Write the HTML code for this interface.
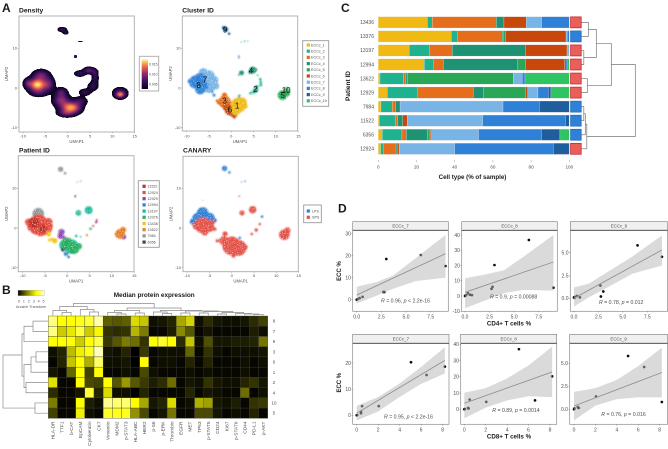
<!DOCTYPE html>
<html lang="en">
<head>
<meta charset="utf-8">
<title>Multi-panel single-cell chart figure</title>
<style>
  html, body { margin: 0; padding: 0; background: #fff; }
  body { width: 668px; height: 449px; overflow: hidden; position: relative; font-family: "Liberation Sans", sans-serif; }
  #density-canvas { position: absolute; left: 19px; top: 16px; width: 115px; height: 116px; }
  #figure { position: absolute; left: 0; top: 0; }
  .b { font-family: "Liberation Sans", sans-serif; font-weight: 700; fill: #1a1a1a; }
</style>
</head>
<body>
<canvas id="density-canvas" width="230" height="232"></canvas>
<svg id="figure" width="668" height="449" viewBox="0 0 668 449" xmlns="http://www.w3.org/2000/svg">
  <defs>
    <filter id="speckle" x="-5%" y="-5%" width="110%" height="110%">
      <feGaussianBlur in="SourceGraphic" stdDeviation="0.75" result="soft"/>
      <feTurbulence type="fractalNoise" baseFrequency="1.1" numOctaves="1" seed="4" result="noise"/>
      <feColorMatrix in="noise" type="matrix" values="0 0 0 0 0  0 0 0 0 0  0 0 0 0 0  0 0 0 5 -1.15" result="mask"/>
      <feComposite in="soft" in2="mask" operator="in"/>
    </filter>
    <linearGradient id="density-gradient" x1="0" y1="1" x2="0" y2="0">
      <stop offset="0" stop-color="#05010f"/><stop offset="0.25" stop-color="#35105f"/>
      <stop offset="0.5" stop-color="#8c2a6e"/><stop offset="0.72" stop-color="#e8604c"/>
      <stop offset="0.87" stop-color="#fbae4a"/><stop offset="1" stop-color="#fcfdbf"/>
    </linearGradient>
    <linearGradient id="heat-gradient" x1="0" y1="0" x2="1" y2="0">
      <stop offset="0" stop-color="#000"/><stop offset="0.7" stop-color="#ffff00"/><stop offset="1" stop-color="#ffffd8"/>
    </linearGradient>
  </defs>

  <text class="b" x="2" y="12" font-size="12">A</text>
  <text class="b" x="2" y="294" font-size="12">B</text>
  <text class="b" x="341" y="12" font-size="12">C</text>
  <text class="b" x="338" y="212.7" font-size="12">D</text>

  <text class="b" x="19" y="12.3" font-size="6.7">Density</text>
  <text class="b" x="182.3" y="12.3" font-size="6.7">Cluster ID</text>
  <text class="b" x="19" y="152.3" font-size="6.7">Patient ID</text>
  <text class="b" x="183" y="152.3" font-size="6.7">CANARY</text>

  <text class="b" x="113.7" y="297" font-size="6.4">Median protein expression</text>
  <text x="31" y="308.2" font-size="3.7" fill="#555" text-anchor="middle">Arcsinh Transform</text>

  <text class="b" x="472.5" y="179" font-size="6.2" text-anchor="middle">Cell type (% of sample)</text>
  <text class="b" x="0" y="0" font-size="6.5" text-anchor="middle" transform="translate(350,86) rotate(-90)">Patient ID</text>

  <text class="b" x="0" y="0" font-size="6" text-anchor="middle" transform="translate(341,271) rotate(-90)">ECC %</text>
  <text class="b" x="0" y="0" font-size="6" text-anchor="middle" transform="translate(341,382.7) rotate(-90)">ECC %</text>
  <text class="b" x="509" y="325.5" font-size="6.2" text-anchor="middle">CD4+ T cells %</text>
  <text class="b" x="509" y="438.5" font-size="6.2" text-anchor="middle">CD8+ T cells %</text>

  <g id="root"></g>
</svg>

<script>
/* ---------- Panel A data (UMAP coordinates) ---------- */
const umapXTicks = [-10, -5, 0, 5, 10, 15];
const umapYTicks = [-10, 0, 10];
const densityLegendLabels = ["0.015", "0.010", "0.005"];

/* density modes: x, y, spread x, spread y, weight */
const densityModes = [
  [-6.8, 0.9, 1.25, 1.0, 0.95], [-9, 1.3, 0.55, 0.7, 0.22], [-6, 3.2, 1.1, 0.85, 0.35], [-4.3, 1.0, 0.8, 1.1, 0.3], [-6.5, -1, 1.2, 0.7, 0.2],
  [0.4, -4.8, 1.25, 0.9, 0.72], [-1.5, -3, 1.1, 1.0, 0.42], [1.7, -5, 1.0, 0.8, 0.22], [-1.5, -1, 0.8, 0.7, 0.25], [-0.3, -6.2, 1.2, 0.6, 0.3], [2.7, -3.3, 1.0, 0.7, 0.2],
  [11.7, -1.6, 0.6, 0.5, 0.55], [11.7, -1.2, 1.0, 0.85, 0.25],
  [4.7, 4.5, 0.75, 0.5, 0.3], [2.7, 3.7, 0.8, 0.5, 0.18], [6.1, 2.5, 0.5, 0.8, 0.16], [5.6, 0.5, 0.75, 0.75, 0.16],
  [3.8, -1, 0.85, 0.55, 0.16], [6, 4, 0.5, 0.55, 0.16],
  [-1.3, 14.8, 0.65, 0.4, 0.18], [-0.5, 14, 0.45, 0.35, 0.12],
  [1.7, 8, 0.2, 0.2, 0.25], [2.8, 11.8, 0.5, 0.1, 0.09]
];

/* clouds per group: x, y, spread */
const clusterNames = ["ECCc_1","ECCc_2","ECCc_3","ECCc_4","ECCc_5","ECCc_6","ECCc_7","ECCc_8","ECCc_9","ECCc_10"];
const clusterClouds = [
  [[1.5,-4.4,1.7],[2.4,-3.6,1.1],[1,-5.6,1.1],[3.2,-4.6,0.5],[1.6,-2.8,0.5]],
  [[5.5,-0.5,0.6],[5.7,0.3,0.4],[6.6,0.8,0.35],[6.6,1.5,0.3],[6.5,2.2,0.3],[5,-1,0.4],[4.3,-1.3,0.3],[1.8,-2,0.3],[5.9,3.2,0.2],[3,11.8,0.18],[2.2,11.6,0.14],[3.7,11.8,0.14]],
  [[-1.5,-3.5,1.4],[-2.6,-3.5,0.7],[-1.5,-1.8,0.6],[-0.5,-4.5,1.1],[-3.2,-3.2,0.3]],
  [[4.8,4.5,0.8],[4.2,4,0.4],[2.3,3.8,0.55],[5.4,4.6,0.4],[1.7,3.3,0.2]],
  [[11.5,-1.8,1.1],[12.3,-1.2,0.9],[10.8,-1.6,0.3]],
  [[-0.2,-5.5,1.3],[0.6,-6.6,0.8],[0.7,-7.5,0.25],[-1.3,-5,0.6]],
  [[-6.3,3.9,1.0],[-5,3,1.3],[-3.8,2,0.9],[-3.5,0.5,0.8],[-5,0.2,1.3],[-6.5,1.8,1.8],[-6.5,-0.5,0.8]],
  [[-8,1.5,1.5],[-9.3,1.7,0.5],[-7,2.2,1.4],[-7,-0.4,1.1],[-6,0.5,0.9],[-3.9,-1.8,0.35],[-4.3,-0.9,0.3],[1.7,8,0.2]],
  [[-1.3,14.8,0.6],[-1.7,15.2,0.4],[-0.5,13.7,0.3],[1.7,7.6,0.15]],
  [[12.4,-0.3,0.5]]
];
const clusterLabels = ["1","2","3","4","5","6","7","8","9","10"];
const clusterLabelX = [1.3, 5.4, -1.5, 4.4, 11.5, -0.3, -5.9, -7.3, -1.4, 12.3];
const clusterLabelY = [-4.4, -0.3, -3.2, 4.3, -1.8, -5.5, 2.1, 0.7, 14.7, -0.5];

const patientNames = ["11522","12924","12929","12994","13197","13376","13436","13622","7984","6356"];
const patientClouds = [
  [[-7.5,1.3,1.2],[-5.5,-0.2,0.9]],
  [[-6.5,0.8,2.3],[-5,0,1.6],[-8.7,1.5,0.8],[-4.2,1.5,0.9],[-6,-1,1.0],[-7.8,0.4,1.2],[-3.7,0.5,0.5],[5.8,0.5,0.25],[6.6,2,0.25]],
  [[-1.3,-1,0.7],[-1.5,-2,0.7],[-0.6,-2.5,0.4],[1.8,8,0.25],[12.6,-2.2,0.6],[6.5,1.5,0.3]],
  [[-0.3,-6.5,0.5],[0.3,-7.3,0.3],[-1,-5,0.6],[1,-6,0.5]],
  [[2.5,3.8,0.65],[4.8,4.5,0.9],[1,-4.7,1.6],[-0.5,-4.3,1.3],[2,-2,0.3],[3,-2.2,0.2],[5.2,-0.2,0.3]],
  [[0,-4,1.4],[1.5,-5.2,1.2],[2.6,-4.6,0.7]],
  [[-4.2,-1.5,0.55],[-2.8,-3.2,0.6],[-4,-3,0.35],[-3.4,-2.9,0.4]],
  [[11.8,-1.5,1.1],[12.5,-0.5,0.7],[10.9,-1.5,0.3],[4.4,-1.8,0.25]],
  [[-6.5,3.6,1.3],[-1.5,14.8,0.6],[-0.5,13.8,0.3],[3,11.8,0.18],[2.2,11.6,0.14]],
  [[-1,-5.5,0.4]]
];
const canaryNames = ["LPS","SPS"];
const canaryClouds = [
  [[-6.5,3.8,1.3],[-7.5,2.3,1.4],[-5,2.5,1.2],[-8.7,1.6,0.7],[-3.8,1.9,0.5],[0.5,-4.5,1.0],[-1.6,15,0.6],[-0.5,14,0.3],[3,11.8,0.18],[2.2,11.6,0.14],[1.8,-2.5,0.3],[6.8,2.9,0.3],[-6.5,7,0.1]],
  [[-6.5,0.7,1.8],[-5,0.2,1.1],[-4.5,1.4,0.7],[-7.9,0.6,0.9],[-3.8,-0.3,0.4],[-6,-1,0.8],[0,-4.5,2.1],[1.5,-5,1.8],[-1.8,-3.2,1.0],[-1.5,-1.5,0.6],[0.4,-7,0.45],[3,-4.8,0.6],[-3.2,-3.2,0.4],[2.3,3.8,0.6],[4.7,4.6,0.85],[11.8,-1.7,1.2],[12.5,-0.6,0.7],[6.3,1,0.3],[5.5,-0.5,0.4],[4.5,-1.5,0.3],[1.7,8,0.2]]
];

/* ---------- Panel B data ---------- */
const heatRows = ["8","7","9","3","6","1","2","4","10","5"];
const heatCols = ["HLA-DR","TTF1","b-CAT","EpCAM","Cytokeratin","CK7","Vimentin","MDM2","p-STAT3","HLA-ABC","HER2","p-S6","p-ERK","Thrombin","EGFR","MET","TP53","p-STAT5","CD24","Ki67","p-STAT6","CD44","PD-L1","p-AKT"];
const heatValues = [
  [4.4,3.5,3.5,3.7,3.9,4.7,1.3,1.2,1.3,3.0,2.7,0.2,0.3,0.5,2.3,2.9,0.2,0.6,0.3,0.2,0.2,0.3,0.6,0.9],
  [4.4,2.8,3.2,3.9,2.8,3.4,0.7,0.6,0.7,2.5,1.7,0.1,0.1,0.4,1.9,1.2,0.1,0.3,0.1,0.1,0.1,0.1,0.4,0.2],
  [3.5,3.5,3.5,2.8,3.5,4.0,0.8,1.2,1.7,1.5,0.7,3.5,3.8,3.5,0.6,2.7,0.2,1.1,0.3,0.3,0.4,0.4,0.5,1.6],
  [0.2,0.5,2.6,3.3,3.7,4.8,0.3,0.2,0.5,0.0,0.8,0.1,0.2,0.2,0.2,1.4,0.1,0.7,0.2,0.1,0.2,0.2,0.2,0.3],
  [0.1,0.5,2.7,3.5,2.4,4.2,0.2,0.2,0.3,0.0,3.5,0.1,0.2,0.2,0.1,0.5,0.1,0.5,0.1,0.1,0.1,0.2,0.1,0.2],
  [0.3,0.1,1.4,3.5,0.9,3.5,0.1,0.1,0.2,0.1,1.0,0.2,0.1,0.1,0.1,0.2,0.1,0.2,0.1,0.1,0.1,0.2,0.1,0.1],
  [3.1,0.1,0.1,3.5,1.0,0.9,3.5,1.2,2.1,1.2,0.8,0.4,0.6,1.5,0.1,0.3,0.2,0.7,0.3,0.2,0.2,0.5,0.7,0.3],
  [0.6,0.1,0.1,0.3,3.9,0.5,3.0,0.2,0.2,0.0,0.5,0.1,0.1,0.1,0.1,0.5,0.1,0.3,0.2,0.1,0.1,1.5,0.1,0.2],
  [1.7,0.1,0.1,3.5,0.4,0.2,4.5,4.3,4.3,3.5,2.3,0.3,0.5,3.0,0.1,0.2,2.4,2.2,0.3,0.2,0.4,0.1,0.7,0.8],
  [0.9,0.1,0.1,3.3,0.2,0.1,3.8,3.7,3.7,2.0,1.0,0.1,0.3,1.6,0.1,0.1,1.0,1.0,0.3,0.1,0.2,0.1,0.5,0.1]
];
const heatLegendTicks = [0, 1, 2, 3, 4, 5];
/* merge trees: [merge height, left, right]; leaves are row / column indices */
const rowTree = [45, [26, [24, [15, 0, 1], 2], [24, [17, [12, 3, 4], 5], [22, 6, 7]]], [13, 8, 9]];
const colTree = [12,
  [9, [5, 0, [3, 1, 2]], [6, 3, [3.5, 4, 5]]],
  [7.5, [5, [3, 6, [1.5, 7, 8]], [2.5, 9, 10]],
    [5, [3.5, 11, [2, 12, 13]], [4.5, [2.5, 14, 15], [4, [2.5, 16, 17], [3, [1.5, 18, 19], [2, 20, [1.5, 21, [1, 22, 23]]]]]]]]];

/* ---------- Panel C data ---------- */
const patients = ["13436","13376","13197","12994","13622","12929","7984","11522","6356","12924"];
const barTicks = [0, 20, 40, 60, 80, 100];
const cellTypeColors = ["#f0b913","#1fb28e","#e56e1c","#1e9373","#2aa657","#c8480b","#78b4e6","#2e81d6","#1f5e9c","#2dc461"];
const share13436 = [25.7, 2.6, 33.5, 4.0, 0, 11.7, 8.0, 14.5, 0, 0];
const share13376 = [38.2, 3.1, 23.6, 0.8, 0.9, 31.7, 0.6, 1.1, 0, 0];
const share13197 = [16.2, 10.5, 12.0, 38.5, 0, 21.6, 1.2, 0, 0, 0];
const share12994 = [24.1, 4.9, 5.0, 39.1, 3.9, 20.6, 0, 1.2, 0, 1.2];
const share13622 = [0.9, 12.2, 1.4, 0.7, 55.5, 0, 4.7, 1.4, 0, 23.2];
const share12929 = [4.7, 15.9, 29.1, 5.2, 22.1, 1.3, 5.3, 5.4, 1.4, 9.6];
const share7984  = [1.4, 5.9, 1.7, 2.4, 0, 0, 53.9, 19.0, 15.7, 0];
const share11522 = [0.5, 8.7, 1.0, 2.6, 0, 2.3, 39.6, 43.3, 1.9, 0];
const share6356  = [2.1, 10.3, 2.3, 11.0, 0.9, 0.9, 25.0, 33.0, 9.6, 4.9];
const share12924 = [1.2, 1.6, 6.5, 1.0, 0, 0.7, 29.0, 51.6, 8.4, 0];
const allShares = [share13436, share13376, share13197, share12994, share13622, share12929, share7984, share11522, share6356, share12924];
const patientCanary = ["SPS","LPS","SPS","SPS","SPS","SPS","LPS","LPS","LPS","SPS"];
const patientTree = [54, [30, [15, [7, 0, 1], [2.5, 2, 3]], [6, 4, 5]], [5.5, [4, [2.5, 6, 7], 8], 9]];

/* ---------- Panel D data ---------- */
const cd4Values  = [0, 0.1, 0.3, 0.6, 2.7, 2.8, 3, 6.5, 9];
const ecc7Top    = [0, 0.3, 0.7, 1.3, 3.5, 3.5, 18.5, 20.3, 15.3];
const cd4Values2 = [0, 0.1, 0.3, 0.5, 0.7, 2.7, 2.8, 3, 6.5, 9];
const ecc8Top    = [0, 0.5, 1.8, 0.8, 0.6, 4.7, 6, 20.3, 36.7, 5.4];
const ecc9TopX   = [0, 0.05, 0.1, 0.3, 0.6, 2.7, 2.75, 3, 6.5, 9];
const ecc9Top    = [0.1, 0.05, 0.15, 0.25, 0.1, 1.4, 0.2, 0.75, 5.8, 4.55];
const cd8Values  = [0, 0.05, 0.4, 0.4, 0.5, 2.05, 5.05, 6.5, 8.2];
const ecc7Bottom = [0, 0.1, 0.8, 1.4, 3.5, 3.5, 20.3, 15.4, 18.6];
const cd8Values2 = [0, 0.05, 0.35, 0.4, 0.5, 2.05, 5.1, 6.6, 8.2];
const ecc8Bottom = [0, 0.2, 0.8, 0.5, 6, 4.6, 37, 5.5, 20.3];
const ecc9BotX   = [0, 0.05, 0.35, 0.4, 0.45, 2.05, 5.05, 6.55, 8.2];
const ecc9Bottom = [0, 0.1, 0.25, 0.15, 0.15, 1.4, 5.8, 4.6, 0.8];

const fitEnds = [[0, 2.1, 9, 20.9], [0, 2.4, 9, 22.3], [0, 0, 9, 5.3], [0, 0.8, 8.2, 21], [0, 3.7, 8.2, 23], [0, 0.36, 8.2, 4]];
const bandX = [[0, 2, 3.7, 6, 9], [0, 2, 4, 6, 9], [0, 1.5, 3, 6, 9], [0, 2, 4, 6, 8.2], [0, 2, 4, 6, 8.2], [0, 2, 4, 6, 8.2]];
const bandLow = [[-1.7, 1.8, 5, 8.5, 10], [-8, -3, 2, 4, 3.5], [-0.9, 0.1, 0.95, 2.7, 3.6], [-2, 1.5, 7, 12, 16], [-5.5, 1, 5.5, 8, 7.5], [-1.2, 0.4, 1.1, 1.3, 1.3]];
const bandHigh = [[5.9, 8, 11, 19, 29.4], [11.6, 14, 17, 26, 40], [1.2, 1.6, 2.6, 4.6, 6.9], [3.6, 7, 12.2, 18.5, 26], [10.2, 13, 19, 27, 38.5], [1.9, 2.3, 3.2, 4.7, 6.7]];
const corrR = ["0.96", "0.9", "0.78", "0.95", "0.89", "0.76"];
const corrP = ["< 2.2e-16", "= 0.00088", "= 0.012", "< 2.2e-16", "= 0.0014", "= 0.016"];
const corrStrips = ["ECCc_7", "ECCc_8", "ECCc_9", "ECCc_7", "ECCc_8", "ECCc_9"];
const corrX = [cd4Values, cd4Values2, ecc9TopX, cd8Values, cd8Values2, ecc9BotX];
const corrY = [ecc7Top, ecc8Top, ecc9Top, ecc7Bottom, ecc8Bottom, ecc9Bottom];
const corrXTicks = [["0.0","2.5","5.0","7.5"],["0.0","2.5","5.0","7.5"],["0.0","2.5","5.0","7.5"],["0","2","4","6","8"],["0","2","4","6","8"],["0","2","4","6","8"]];
const corrYTicks = [["0","10","20","30"],["-10","0","10","20","30","40"],["0.0","2.5","5.0"],["0","10","20"],["0","10","20","30","40"],["0.0","2.5","5.0"]];

/* ---------- helpers ---------- */
const NS = "http://www.w3.org/2000/svg";
const root = document.getElementById("root");
function el(tag, name, attrs, parent) {
  const node = document.createElementNS(NS, tag);
  
  
  for (const k in attrs) node.setAttribute(k, attrs[k]);
  (parent || root).appendChild(node);
  return node;
}
function label(name, str, x, y, size, anchor, fill, rotate) {
  const attrs = { "font-size": size, "text-anchor": anchor || "start", fill: fill || "#4d4d4d", "font-family": '"Liberation Sans", sans-serif' };
  if (rotate) {
    attrs.transform = "translate(" + x + "," + y + ") rotate(" + rotate + ")";
    attrs.x = 0; attrs.y = size * 0.35;
  } else {
    attrs.x = x; attrs.y = y + size * 0.35;
  }
  const t = el("text", name, attrs);
  t.textContent = str;
  return t;
}
function linear(v0, p0, v1, p1) { return v => p0 + (v - v0) * (p1 - p0) / (v1 - v0); }
function treeLeafCenter(node, leafPos) {
  return Array.isArray(node) ? (treeLeafCenter(node[1], leafPos) + treeLeafCenter(node[2], leafPos)) / 2 : leafPos(node);
}
function drawTree(node, name, leafPos, base, dir, vertical, color) {
  if (!Array.isArray(node)) return;
  const h = node[0];
  const a = node[1], b = node[2];
  const pa = treeLeafCenter(a, leafPos), pb = treeLeafCenter(b, leafPos);
  const ha = Array.isArray(a) ? a[0] : 0, hb = Array.isArray(b) ? b[0] : 0;
  const H = v => base + dir * v;
  const d = vertical
    ? "M" + pa + " " + H(ha) + "V" + H(h) + "H" + pb + "V" + H(hb)
    : "M" + H(ha) + " " + pa + "H" + H(h) + "V" + pb + "H" + H(hb);
  el("path", name, { d: d, fill: "none", stroke: color, "stroke-width": 0.7 });
  drawTree(a, name, leafPos, base, dir, vertical, color);
  drawTree(b, name, leafPos, base, dir, vertical, color);
}

/* ---------- Panel A ---------- */
const densityStops = [[0,[5,1,15]],[0.25,[53,16,95]],[0.5,[140,42,110]],[0.72,[232,96,76]],[0.87,[251,174,74]],[1,[252,253,191]]];
function densityColor(t) {
  for (let i = 1; i < densityStops.length; i++) {
    if (t <= densityStops[i][0]) {
      const a = densityStops[i-1], b = densityStops[i], f = (t - a[0]) / (b[0] - a[0]);
      return [0,1,2].map(c => a[1][c] + (b[1][c] - a[1][c]) * f);
    }
  }
  return densityStops[densityStops.length-1][1];
}
(function drawDensity() {
  const cv = document.getElementById("density-canvas");
  const ctx = cv.getContext("2d");
  const img = ctx.createImageData(cv.width, cv.height);
  const sx = 4.47, sy = 3.97;
  const cutoff = 0.045;
  for (let j = 0; j < cv.height; j++) {
    for (let i = 0; i < cv.width; i++) {
      const dx = (19 + i / 2 - 67.7) / sx, dy = (88 - (16 + j / 2)) / sy;
      let v = 0;
      for (const m of densityModes) {
        const a = (dx - m[0]) / m[2], b = (dy - m[1]) / m[3];
        v += m[4] * Math.exp(-0.5 * (a * a + b * b));
      }
      const p = (j * cv.width + i) * 4;
      if (v < cutoff) { img.data[p] = img.data[p+1] = img.data[p+2] = 255; img.data[p+3] = 255; continue; }
      const c = densityColor(Math.min(1, Math.pow(v - cutoff, 0.75) * 1.02));
      img.data[p] = c[0]; img.data[p+1] = c[1]; img.data[p+2] = c[2]; img.data[p+3] = 255;
    }
  }
  ctx.putImageData(img, 0, 0);
})();

const umapLayouts = [
  { id: "density",  left: 19,    right: 134.3, top: 16,    bottom: 132,   x0: 67.7,  y0: 88,  lblY: 136,   titleY: 141.5, yLabelX: 6.7,   tickR: 17 },
  { id: "cluster",  left: 182.3, right: 297.7, top: 16,    bottom: 131,   x0: 231.3, y0: 88,  lblY: 136,   titleY: 141.5, yLabelX: 170.5, tickR: 180.5 },
  { id: "patient",  left: 18.3,  right: 134,   top: 155.7, bottom: 271.7, x0: 67.3,  y0: 228, lblY: 275.7, titleY: 281,   yLabelX: 6.7,   tickR: 16.5 },
  { id: "canary",   left: 183,   right: 298.3, top: 156.3, bottom: 271.7, x0: 231.7, y0: 228, lblY: 275.7, titleY: 281,   yLabelX: 171,   tickR: 181 }
];
const umapPalettes = {
  cluster: cellTypeColors,
  patient: ["#b8322a","#e74c3c","#8e44ad","#2e86c1","#1abc9c","#27ae60","#f1c40f","#e67e22","#8e9698","#34495e"],
  canary: ["#2e81d6","#e4534a"]
};
const umapClouds = { cluster: clusterClouds, patient: patientClouds, canary: canaryClouds };

umapLayouts.forEach(L => {
  const xs = v => L.x0 + v * 4.46;
  const ys = v => L.y0 - v * 3.97;
  if (umapClouds[L.id]) {
    const layer = el("g", L.id + "-scatter", { filter: "url(#speckle)" });
    const order = L.id === "cluster" ? [6,7,2,5,0,1,3,4,8,9] : L.id === "patient" ? [8,1,0,2,3,4,5,6,7,9] : [0,1];
    order.forEach(g => {
      umapClouds[L.id][g].forEach(c => {
        el("circle", L.id + "-cloud", { cx: xs(c[0]), cy: ys(c[1]), r: c[2] * 4.46, fill: umapPalettes[L.id][g] }, layer);
      });
    });
  }
  el("rect", L.id + "-frame", { x: L.left, y: L.top, width: L.right - L.left, height: L.bottom - L.top, fill: "none", stroke: "#ababab", "stroke-width": 0.9 });
  umapXTicks.forEach(t => {
    el("line", "x-tick", { x1: xs(t), x2: xs(t), y1: L.bottom, y2: L.bottom + 1.2, stroke: "#777", "stroke-width": 0.4 });
    label("x-tick-label", String(t), xs(t), L.lblY, 4, "middle");
  });
  umapYTicks.forEach(t => {
    el("line", "y-tick", { x1: L.left - 1.2, x2: L.left, y1: ys(t), y2: ys(t), stroke: "#777", "stroke-width": 0.4 });
    label("y-tick-label", String(t), L.tickR, ys(t), 4, "end");
  });
  label("x-axis-title", "UMAP1", (L.left + L.right) / 2, L.titleY, 4.2, "middle");
  label("y-axis-title", "UMAP2", L.yLabelX, (L.top + L.bottom) / 2, 4.2, "middle", "#4d4d4d", -90);
});

clusterLabels.forEach((s, i) => {
  label("cluster-label-" + s, s, 231.3 + clusterLabelX[i] * 4.46, 88 - clusterLabelY[i] * 3.97, 8, "middle", "#111");
});

/* density legend */
el("rect", "density-legend-box", { x: 139.3, y: 56.3, width: 19.4, height: 34.7, fill: "#fff", stroke: "#aaa", "stroke-width": 0.9 });
el("rect", "density-legend-bar", { x: 141.7, y: 59, width: 6.3, height: 30, fill: "url(#density-gradient)" });
densityLegendLabels.forEach((s, i) => label("density-legend-label", s, 149, 64.3 + i * 9.9, 3.4, "start"));

/* categorical legends */
function categorical(name, box, names, colors, firstY, step, sx, tx, size) {
  el("rect", name + "-box", { x: box[0], y: box[1], width: box[2], height: box[3], fill: "#fff", stroke: "#999", "stroke-width": 0.9 });
  names.forEach((n, i) => {
    const y = firstY + i * step;
    el("rect", name + "-swatch", { x: sx, y: y - 1.6, width: 3.2, height: 3.2, fill: colors[i] });
    label(name + "-entry", n, tx, y, size, "start");
  });
}
categorical("cluster-legend", [302.7, 40.7, 26, 65.6], clusterNames, cellTypeColors, 45, 6.2, 306.7, 311, 3.7);
categorical("patient-legend", [138.3, 180.7, 21, 66.6], patientNames, umapPalettes.patient, 186.3, 6.2, 142.5, 147.5, 3.7);
categorical("canary-legend", [303.7, 205, 17.6, 17.7], canaryNames, umapPalettes.canary, 211, 6.3, 306.7, 312, 3.7);

/* ---------- Panel B ---------- */
const cellW = 219.4 / heatCols.length, cellH = 102.3 / heatRows.length, heatX = 48.3, heatY = 316;
const rowPos = i => heatY + (i + 0.5) * cellH;
const colPos = i => heatX + (i + 0.5) * cellW;
function heatColor(v) {
  if (v <= 3.5) { const c = Math.round(255 * v / 3.5); return "rgb(" + c + "," + c + ",0)"; }
  const f = Math.min(1, (v - 3.5) / 1.5);
  return "rgb(255,255," + Math.round(216 * f) + ")";
}
heatValues.forEach((row, r) => {
  row.forEach((v, c) => {
    el("rect", "heat-cell-" + heatRows[r] + "-" + heatCols[c], { x: heatX + c * cellW, y: heatY + r * cellH, width: cellW, height: cellH, fill: heatColor(v), stroke: "#3a3a3a", "stroke-width": 0.35 });
  });
});
heatRows.forEach((s, i) => label("heat-row-label", s, 274, rowPos(i), 4.4, "middle"));
heatCols.forEach((s, i) => label("heat-col-label", s, colPos(i), 421.5, 4.8, "end", "#4d4d4d", -90));
drawTree(rowTree, "row-dendrogram-branch", rowPos, 48, -1, false, "#8a8a8a");
drawTree(colTree, "col-dendrogram-branch", colPos, 315.5, -1, true, "#8a8a8a");
el("rect", "heat-legend-bar", { x: 18, y: 290.3, width: 26.3, height: 5.4, fill: "url(#heat-gradient)", stroke: "#999", "stroke-width": 0.3 });
const legendScale = linear(0, 19, 5, 43.5);
heatLegendTicks.forEach(t => label("heat-legend-tick", String(t), legendScale(t), 301, 3.6, "middle"));

/* ---------- Panel C ---------- */
const barX = linear(0, 378.3, 100, 569.3);
const barY = i => 16.7 + i * 14.05;
const barH = 11.3;
patients.forEach((p, i) => {
  let acc = 0;
  allShares[i].forEach((v, k) => {
    if (v > 0) {
      el("rect", "bar-" + p + "-" + clusterNames[k], { x: barX(acc), y: barY(i), width: barX(acc + v) - barX(acc), height: barH, fill: cellTypeColors[k], stroke: "#e8e8e8", "stroke-width": 0.25 });
    }
    acc += v;
  });
  label("patient-label", p, 374, barY(i) + barH / 2, 5, "end");
  const sps = patientCanary[i] === "SPS";
  el("rect", "canary-annotation-" + p, { x: 570.6, y: barY(i) + 0.2, width: 10.6, height: barH - 0.4, fill: sps ? "#e85f5c" : "#2e81d6", stroke: sps ? "#c92a2a" : "#2c6fb5", "stroke-width": 0.8 });
});
barTicks.forEach(t => {
  el("line", "bar-x-tick", { x1: barX(t), x2: barX(t), y1: 160.3, y2: 162, stroke: "#666", "stroke-width": 0.4 });
  label("bar-x-tick-label", String(t), barX(t), 166.7, 4.6, "middle");
});
drawTree(patientTree, "patient-dendrogram-branch", i => barY(i) + barH / 2, 581.3, 1, false, "#777");

/* ---------- Panel D ---------- */
const dLayouts = [
  { left: 352.7, right: 448.3, top: 221.7, strip: 230.3, bottom: 311.3, xv: [0, 7.5], xp: [356.7, 430.7], yv: [0, 30], yp: [299.7, 233.7], tv: [0, 2.5, 5, 7.5], yt: [0, 10, 20, 30], sx: 381, sy: 300.7 },
  { left: 461.7, right: 557.3, top: 221.7, strip: 230.3, bottom: 311.3, xv: [0, 7.5], xp: [465, 538.7], yv: [0, 40], yp: [296, 235], tv: [0, 2.5, 5, 7.5], yt: [-10, 0, 10, 20, 30, 40], sx: 490, sy: 296.7 },
  { left: 570.3, right: 667.5, top: 221.7, strip: 230.3, bottom: 311.3, xv: [0, 7.5], xp: [574, 647.3], yv: [0, 5], yp: [298.3, 252.7], tv: [0, 2.5, 5, 7.5], yt: [0, 2.5, 5], sx: 599, sy: 302.3 },
  { left: 352.7, right: 449, top: 334.3, strip: 343.3, bottom: 424.3, xv: [0, 8], xp: [356.7, 442.7], yv: [0, 20], yp: [415.3, 363], tv: [0, 2, 4, 6, 8], yt: [0, 10, 20], sx: 384, sy: 416.7 },
  { left: 460.7, right: 556.7, top: 334.3, strip: 343.3, bottom: 424.3, xv: [0, 8], xp: [464.3, 550], yv: [0, 40], yp: [409.3, 344.3], tv: [0, 2, 4, 6, 8], yt: [0, 10, 20, 30, 40], sx: 492.3, sy: 410.3 },
  { left: 569.7, right: 667.5, top: 334.3, strip: 343.3, bottom: 424.3, xv: [0, 8], xp: [574, 659.7], yv: [0, 5], yp: [409.3, 363.3], tv: [0, 2, 4, 6, 8], yt: [0, 2.5, 5], sx: 601.3, sy: 414 }
];
dLayouts.forEach((L, i) => {
  const xs = linear(L.xv[0], L.xp[0], L.xv[1], L.xp[1]);
  const ys = linear(L.yv[0], L.yp[0], L.yv[1], L.yp[1]);
  const panel = corrStrips[i] + "-" + (i < 3 ? "cd4" : "cd8");
  el("rect", panel + "-strip", { x: L.left, y: L.top, width: L.right - L.left, height: L.strip - L.top, fill: "#f0f0f0", stroke: "#7a7a7a", "stroke-width": 0.6 });
  label(panel + "-strip-label", corrStrips[i], (L.left + L.right) / 2, (L.top + L.strip) / 2, 4.4, "middle");
  corrX[i].forEach((v, k) => {
    el("circle", panel + "-point", { cx: xs(v), cy: ys(corrY[i][k]), r: 1.35, fill: "#0d0d0d" });
  });
  const top = bandX[i].map((x, k) => xs(x) + "," + ys(bandHigh[i][k]));
  const bottom = bandX[i].map((x, k) => xs(x) + "," + ys(bandLow[i][k])).reverse();
  el("polygon", panel + "-confidence-band", { points: top.concat(bottom).join(" "), fill: "#b5b5b5", "fill-opacity": 0.5, stroke: "none" });
  const f = fitEnds[i];
  el("line", panel + "-fit-line", { x1: xs(f[0]), y1: ys(f[1]), x2: xs(f[2]), y2: ys(f[3]), stroke: "#929292", "stroke-width": 0.9 });
  el("rect", panel + "-frame", { x: L.left, y: L.strip, width: L.right - L.left, height: L.bottom - L.strip, fill: "none", stroke: "#8a8a8a", "stroke-width": 0.7 });
  el("line", panel + "-strip-rule", { x1: L.left, x2: L.right, y1: L.strip, y2: L.strip, stroke: "#4a4a4a", "stroke-width": 0.9 });
  L.tv.forEach((t, k) => {
    el("line", "x-tick", { x1: xs(t), x2: xs(t), y1: L.bottom, y2: L.bottom + 1.2, stroke: "#666", "stroke-width": 0.4 });
    label("x-tick-label", corrXTicks[i][k], xs(t), L.bottom + 5.5, 5, "middle");
  });
  L.yt.forEach((t, k) => {
    el("line", "y-tick", { x1: L.left - 1.2, x2: L.left, y1: ys(t), y2: ys(t), stroke: "#666", "stroke-width": 0.4 });
    label("y-tick-label", corrYTicks[i][k], L.left - 1.8, ys(t), 5, "end");
  });
  const stat = label(panel + "-correlation-label", "", L.sx, L.sy, 5.2, "start");
  const s1 = el("tspan", "r-symbol", { "font-style": "italic" }, stat);
  s1.textContent = "R";
  const s2 = el("tspan", "r-value", {}, stat);
  s2.textContent = " = " + corrR[i] + ", ";
  const s3 = el("tspan", "p-symbol", { "font-style": "italic" }, stat);
  s3.textContent = "p";
  const s4 = el("tspan", "p-value", {}, stat);
  s4.textContent = " " + corrP[i];
});
</script>
</body>
</html>
